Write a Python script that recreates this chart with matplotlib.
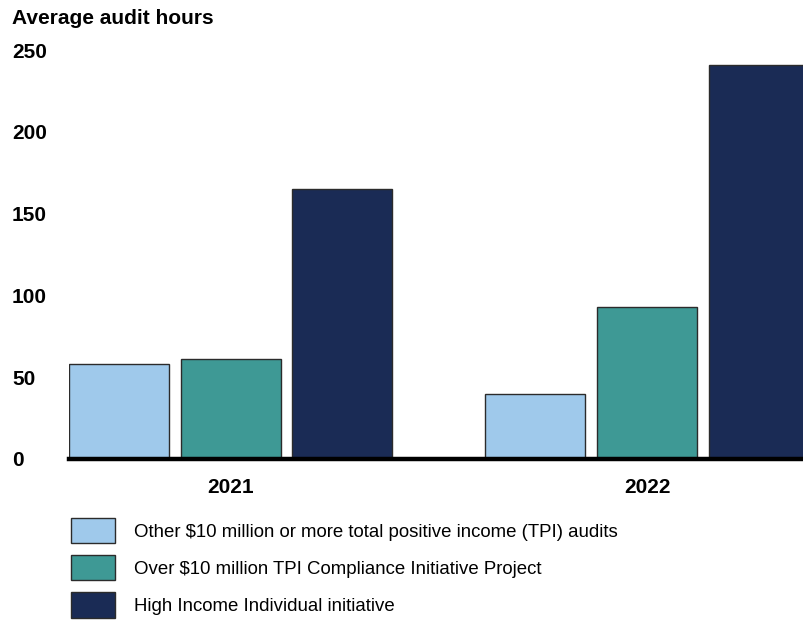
import matplotlib.pyplot as plt
import numpy as np

plt.rcParams["font.family"] = ["Liberation Sans", "DejaVu Sans"]

years = ["2021", "2022"]
series_names = [
    "Other $10 million or more total positive income (TPI) audits",
    "Over $10 million TPI Compliance Initiative Project",
    "High Income Individual initiative",
]
other_tpi = [58, 40]
cip = [61, 93]
high_income = [165, 241]
yticks = [0, 50, 100, 150, 200, 250]

colors = ["#9fc9eb", "#3e9995", "#1a2b55"]

fig = plt.figure(figsize=(8.04, 6.23), dpi=100)
ax = fig.add_axes([69 / 804, 164 / 623, 1 - 69 / 804, 409 / 623])

x = np.arange(len(years))
step = 0.268
width = 0.24
for i, (vals, color, name) in enumerate(zip([other_tpi, cip, high_income], colors, series_names)):
    ax.bar(x + (i - 1) * step, vals, width=width, color=color, edgecolor="#2b2b2b",
           linewidth=1, label=name, zorder=2)

ax.set_xlim(-0.388, 1.377)
ax.set_ylim(0, 250)
ax.set_yticks(yticks)
ax.set_yticklabels([str(t) for t in yticks], fontsize=15, fontweight="bold", ha="left")
ax.tick_params(axis="y", length=0, pad=41)
ax.set_xticks(x)
ax.set_xticklabels(years, fontsize=15, fontweight="bold")
ax.tick_params(axis="x", length=0, pad=14)

for side in ["top", "right", "left"]:
    ax.spines[side].set_visible(False)
ax.spines["bottom"].set_linewidth(3.2)
ax.spines["bottom"].set_zorder(3)

fig.text(12 / 804, 1 - 18 / 623, "Average audit hours", fontsize=15, fontweight="bold",
         va="center", ha="left")

fig.legend(loc="upper left", bbox_to_anchor=(71 / 804, 1 - 518 / 623), frameon=False,
           fontsize=13.4, handlelength=2.37, handleheight=1.72, labelspacing=0.63,
           handletextpad=1.0, borderpad=0, borderaxespad=0)

fig.savefig("out.png", dpi=100)
plt.close(fig)
